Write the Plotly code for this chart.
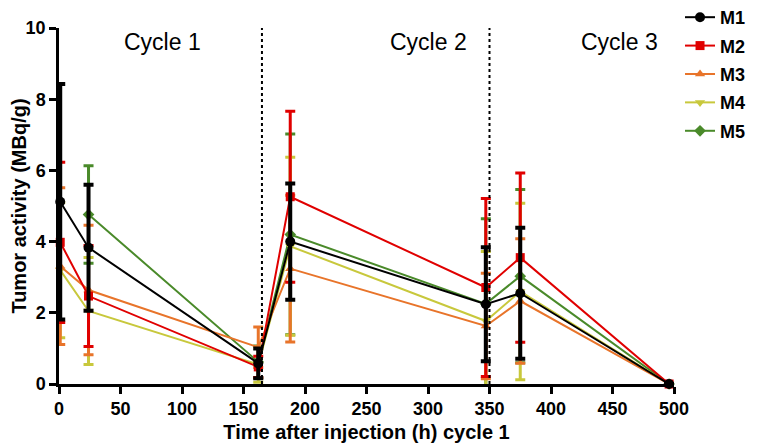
import plotly.graph_objects as go

time_h = [1, 24, 162, 188, 347, 375, 496]
series_names = ["M1", "M2", "M3", "M4", "M5"]
m1 = [5.12, 3.83, 0.58, 4.00, 2.24, 2.55, 0.0]
m1_err = [3.31, 1.77, 0.42, 1.63, 1.60, 1.84, 0.0]
m2 = [3.98, 2.47, 0.48, 5.26, 2.71, 3.55, 0.0]
m2_err = [2.25, 1.42, 0.30, 2.40, 2.50, 2.38, 0.0]
m3 = [3.31, 2.64, 1.03, 3.24, 1.63, 2.33, 0.0]
m3_err = [2.20, 1.82, 0.57, 2.06, 1.48, 1.75, 0.0]
m4 = [3.20, 2.05, 0.55, 3.87, 1.77, 2.60, 0.0]
m4_err = [1.90, 1.50, 0.50, 2.50, 1.95, 2.48, 0.0]
m5 = [None, 4.76, 0.62, 4.20, 2.25, 3.03, 0.0]
m5_err = [None, 1.37, 0.45, 2.82, 2.39, 2.43, 0.0]

cycle_labels = ["Cycle 1", "Cycle 2", "Cycle 3"]
cycle_label_x = [84, 300, 456]
cycle_boundaries = [165, 350]

values = [m1, m2, m3, m4, m5]
errors = [m1_err, m2_err, m3_err, m4_err, m5_err]
colors = ["#000000", "#e00000", "#e8742a", "#c8c83c", "#4a8a2a"]
symbols = ["circle", "square", "triangle-up", "triangle-down", "diamond"]
ebw = [4, 3, 3, 3, 3]

fig = go.Figure()
for i in reversed(range(5)):
    fig.add_trace(go.Scatter(
        x=time_h, y=values[i], name=series_names[i], mode="lines+markers",
        legendgroup=series_names[i], legendrank=i + 1,
        line=dict(color=colors[i], width=2),
        marker=dict(color=colors[i], symbol=symbols[i], size=10 if i == 0 else 9),
        error_y=dict(type="data", array=errors[i], visible=True,
                     color=colors[i], thickness=ebw[i], width=5),
        cliponaxis=False, connectgaps=False,
    ))

for xb in cycle_boundaries:
    fig.add_shape(type="line", x0=xb, x1=xb, y0=0, y1=10, xref="x", yref="y",
                  line=dict(color="black", width=2, dash="dot"))

for lab, lx in zip(cycle_labels, cycle_label_x):
    fig.add_annotation(x=lx, y=9.6, text=lab, showarrow=False,
                       font=dict(family="Liberation Sans", size=23, color="black"))

fig.update_layout(
    width=780, height=439,
    margin=dict(l=51, r=114, t=20, b=63, autoexpand=False),
    plot_bgcolor="white", paper_bgcolor="white",
    font=dict(family="Liberation Sans", color="black"),
    legend=dict(x=1.0098, y=1.0815, xanchor="left", yanchor="top",
                traceorder="grouped", itemwidth=30,
                font=dict(size=18, weight="bold"), tracegroupgap=2),
    xaxis=dict(range=[0, 500], tickmode="array",
               tickvals=[0, 50, 100, 150, 200, 250, 300, 350, 400, 450, 500],
               showline=True, linecolor="black", linewidth=2.5,
               ticks="outside", ticklen=7, tickwidth=2.5, tickcolor="black",
               showgrid=False, zeroline=False, automargin=False,
               tickfont=dict(size=18, weight="bold"),
               title=dict(text="Time after injection (h) cycle 1",
                          font=dict(size=20, weight="bold"), standoff=7)),
    yaxis=dict(range=[0, 10], tickmode="array", tickvals=[0, 2, 4, 6, 8, 10],
               showline=True, linecolor="black", linewidth=2.5,
               ticks="outside", ticklen=7, tickwidth=2.5, tickcolor="black",
               showgrid=False, zeroline=False, automargin=False,
               tickfont=dict(size=18, weight="bold"),
               title=dict(text="Tumor activity (MBq/g)",
                          font=dict(size=20, weight="bold"), standoff=1)),
)

fig.write_html("out.html")
